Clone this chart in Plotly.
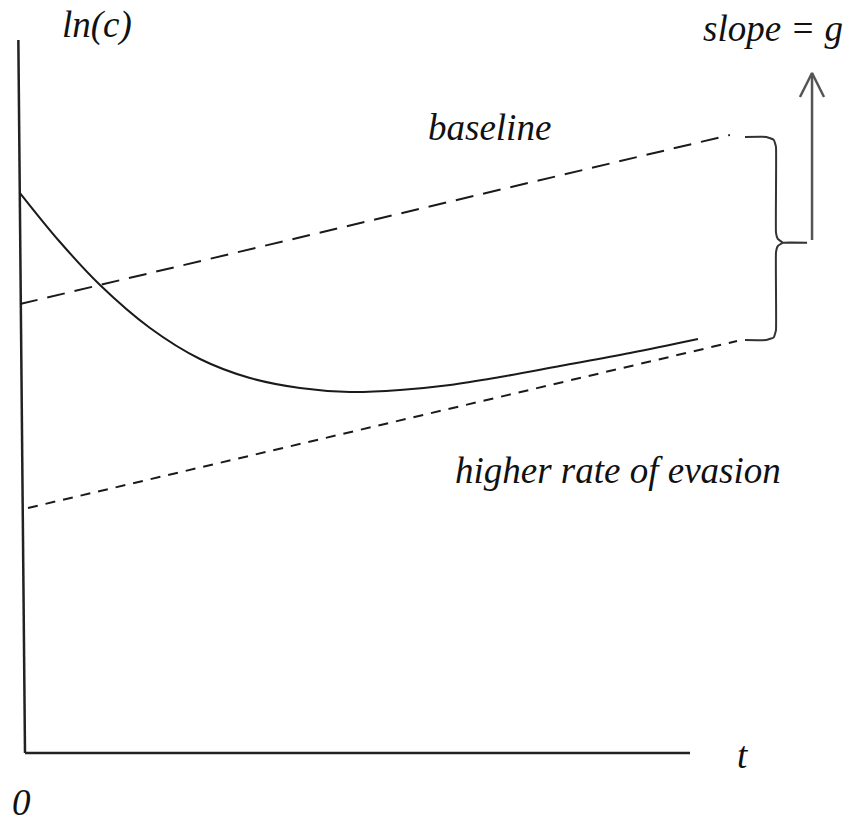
import plotly.graph_objects as go

# Conceptual data (time t, log consumption ln(c)); arbitrary units
axis_y_t = [-1.0, 0.0]
axis_y_v = [100.0, 0.0]
axis_x_t = [0.0, 100.0]
axis_x_v = [0.0, 0.0]

baseline_t = [-0.75, 106.0]
baseline_v = [62.97, 86.68]

evasion_t = [0.45, 107.07]
evasion_v = [34.36, 57.78]

path_t = [-0.75, 5.26, 11.28, 18.80, 26.32, 33.83, 41.35, 48.87, 56.39, 63.91,
          71.43, 80.45, 90.98, 101.20]
path_v = [78.54, 71.67, 65.64, 59.61, 55.26, 52.59, 51.19, 50.63, 50.91, 51.61,
          52.73, 54.28, 56.10, 58.06]

brace_t = [108.27, 111.5, 112.6, 112.93, 112.93, 113.2, 114.0, 117.6, 114.0,
           113.2, 112.93, 112.93, 112.6, 111.5, 108.27]
brace_v = [86.40, 86.40, 86.0, 85.0, 73.0, 72.1, 71.58, 71.58, 71.58,
           71.1, 70.2, 59.3, 58.3, 57.92, 57.92]

arrow_t = [118.35, 118.35]
arrow_v = [71.95, 95.37]
arrowhead_t = [116.54, 118.35, 120.15]
arrowhead_v = [92.01, 95.37, 92.01]

labels = ["ln(c)", "slope = g", "baseline", "higher rate of evasion", "t", "0"]
label_t = [10.83, 112.5, 69.92, 89.17, 107.97, -0.6]
label_v = [102.1, 101.68, 87.66, 39.69, -0.28, -6.9]

ink = "#1a1a1a"
fig = go.Figure()
fig.add_trace(go.Scatter(x=axis_y_t, y=axis_y_v, mode="lines",
                         line=dict(color="#222", width=2.5)))
fig.add_trace(go.Scatter(x=axis_x_t, y=axis_x_v, mode="lines",
                         line=dict(color="#222", width=2.5)))
fig.add_trace(go.Scatter(x=baseline_t, y=baseline_v, mode="lines",
                         line=dict(color=ink, width=2, dash="18px,10px")))
fig.add_trace(go.Scatter(x=evasion_t, y=evasion_v, mode="lines",
                         line=dict(color=ink, width=2, dash="10px,8px")))
fig.add_trace(go.Scatter(x=path_t, y=path_v, mode="lines",
                         line=dict(color=ink, width=2, shape="spline", smoothing=1.0)))
fig.add_trace(go.Scatter(x=brace_t, y=brace_v, mode="lines",
                         line=dict(color="#333", width=2, shape="spline", smoothing=0.3)))
fig.add_trace(go.Scatter(x=arrow_t, y=arrow_v, mode="lines",
                         line=dict(color="#555", width=2.5)))
fig.add_trace(go.Scatter(x=arrowhead_t, y=arrowhead_v, mode="lines",
                         line=dict(color="#555", width=2.5)))

for txt, tx, ty in zip(labels, label_t, label_v):
    fig.add_annotation(x=tx, y=ty, text=txt, showarrow=False,
                       xanchor="center", yanchor="middle",
                       font=dict(family="Liberation Serif", size=37, color="#111", style="italic"))

fig.update_layout(
    width=855, height=825,
    margin=dict(l=0, r=0, t=0, b=0),
    paper_bgcolor="white", plot_bgcolor="white",
    showlegend=False,
    xaxis=dict(range=[-3.759, 124.812], visible=False, fixedrange=True),
    yaxis=dict(range=[-10.098, 105.61], visible=False, fixedrange=True),
)
fig.write_html("out.html", config={"displayModeBar": False},
               post_script="document.body.style.margin='0';document.body.style.overflow='hidden';")
